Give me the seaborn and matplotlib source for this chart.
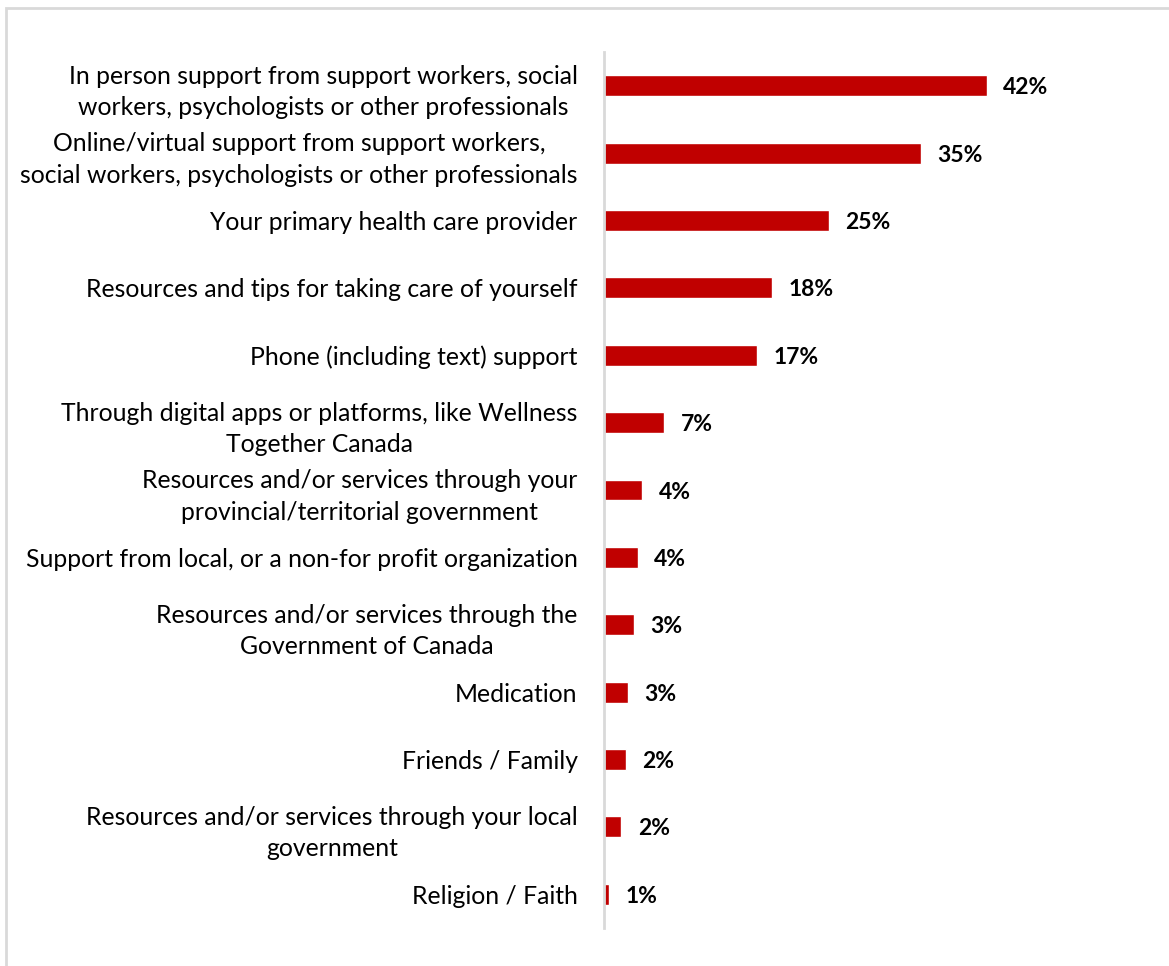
import matplotlib
matplotlib.use("Agg")
import matplotlib.pyplot as plt
import seaborn as sns
import pandas as pd

categories = [
    "In person support from support workers, social\nworkers, psychologists or other professionals",
    "Online/virtual support from support workers,\nsocial workers, psychologists or other professionals",
    "Your primary health care provider",
    "Resources and tips for taking care of yourself",
    "Phone (including text) support",
    "Through digital apps or platforms, like Wellness\nTogether Canada",
    "Resources and/or services through your\nprovincial/territorial government",
    "Support from local, or a non-for profit organization",
    "Resources and/or services through the\nGovernment of Canada",
    "Medication",
    "Friends / Family",
    "Resources and/or services through your local\ngovernment",
    "Religion / Faith",
]
shares = [42.0, 34.8, 24.7, 18.4, 16.8, 6.6, 4.2, 3.7, 3.3, 2.6, 2.4, 1.9, 0.6]

df = pd.DataFrame({"option": categories, "share": shares})

sns.set_theme(style="white")
plt.rcParams["font.family"] = ["Lato", "DejaVu Sans"]

fig = plt.figure(figsize=(11.69, 9.66), dpi=100)
ax = fig.add_axes([604 / 1169, 1 - 928 / 966, (1151 - 604) / 1169, (928 - 52) / 966])

sns.barplot(data=df, x="share", y="option", orient="h", color="#C00000",
            width=0.31, saturation=1, ax=ax)

ax.set_xlim(0, 60)
ax.set_ylim(len(categories) - 0.5, -0.5)
ax.set_xlabel("")
ax.set_ylabel("")
ax.set_xticks([])
ax.tick_params(axis="y", length=0, pad=19, labelsize=17.8, labelcolor="#000000")
for t in ax.get_yticklabels():
    t.set_multialignment("center")
    t.set_linespacing(1.45)

for s in ["top", "right", "bottom"]:
    ax.spines[s].set_visible(False)
ax.spines["left"].set_color("#D9D9D9")
ax.spines["left"].set_linewidth(2)

for i, v in enumerate(shares):
    ax.text(v + 1.8, i + 0.03, f"{v:.0f}%", va="center", ha="left",
            fontsize=16.5, fontweight="bold", color="#000000")

# outer chart-area frame
fig.add_artist(plt.Rectangle((6 / 1169, -0.05), 1.2, 1 - 8 / 966 + 0.05,
                             transform=fig.transFigure, fill=False,
                             edgecolor="#D9D9D9", linewidth=2))

fig.savefig("out.png", dpi=100)
